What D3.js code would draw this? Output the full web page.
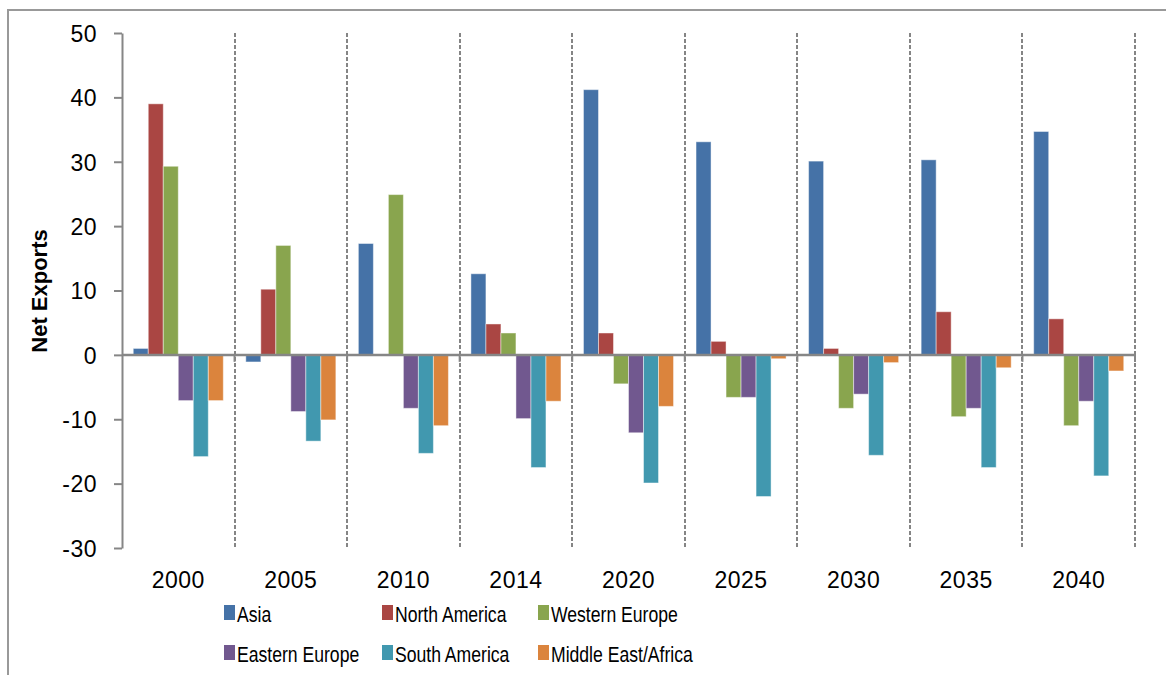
<!DOCTYPE html>
<html>
<head>
<meta charset="utf-8">
<script src="https://cdn.jsdelivr.net/npm/d3@7"></script>
<style>
  body { margin: 0; background: #fff; }
  svg { display: block; font-family: "Liberation Sans", Arial, sans-serif; }
</style>
</head>
<body>
<div id="chart"></div>
<script>
// Data
var years = ["2000", "2005", "2010", "2014", "2020", "2025", "2030", "2035", "2040"];
var series = ["Asia", "North America", "Western Europe", "Eastern Europe", "South America", "Middle East/Africa"];
var asia          = [1.0, -1.1, 17.3, 12.6, 41.2, 33.1, 30.1, 30.3, 34.7];
var northAmerica  = [39.0, 10.2, 0, 4.8, 3.4, 2.1, 1.0, 6.7, 5.6];
var westernEurope = [29.3, 17.0, 24.9, 3.4, -4.5, -6.6, -8.3, -9.6, -11.0];
var easternEurope = [-7.1, -8.8, -8.3, -9.9, -12.1, -6.6, -6.1, -8.3, -7.2];
var southAmerica  = [-15.8, -13.4, -15.3, -17.5, -19.9, -22.0, -15.6, -17.5, -18.8];
var middleEast    = [-7.1, -10.1, -11.0, -7.2, -8.0, -0.6, -1.2, -2.0, -2.5];
var yTicks = [-30, -20, -10, 0, 10, 20, 30, 40, 50];

var values = [asia, northAmerica, westernEurope, easternEurope, southAmerica, middleEast];
var colors = ["#4572A7", "#AA4643", "#89A54E", "#71588F", "#4198AF", "#DB843D"];

var width = 1166, height = 675;
var axisColor = "#868686";

var svg = d3.select("#chart").append("svg")
    .attr("width", width)
    .attr("height", height);

// outer chart border (only top and left show)
svg.append("path")
    .attr("d", "M8,675 L8,10 L1166,10")
    .attr("fill", "none")
    .attr("stroke", "#999")
    .attr("stroke-width", 2);

// Scales
var x = d3.scaleBand().domain(years).range([122, 1135]).padding(0);
var xs = d3.scaleBand().domain(series).range([0, x.bandwidth()])
    .paddingInner(0).paddingOuter(0.75);
var y = d3.scaleLinear().domain([-30, 50]).range([548, 33]);
var color = d3.scaleOrdinal().domain(series).range(colors);

// dashed vertical separators between categories
svg.append("g")
    .selectAll("line")
    .data(years)
    .enter().append("line")
    .attr("x1", d => Math.round(x(d) + x.bandwidth()))
    .attr("x2", d => Math.round(x(d) + x.bandwidth()))
    .attr("y1", y(50))
    .attr("y2", y(-30))
    .attr("stroke", "#858585")
    .attr("stroke-width", 2)
    .attr("stroke-dasharray", "4,2");

// Bars
var rows = [];
years.forEach(function(yr, i) {
    series.forEach(function(s, j) {
        rows.push({ year: yr, series: s, value: values[j][i] });
    });
});

svg.append("g")
    .selectAll("rect")
    .data(rows.filter(d => d.value !== 0))
    .enter().append("rect")
    .attr("x", d => x(d.year) + xs(d.series))
    .attr("width", xs.bandwidth())
    .attr("y", d => y(Math.max(0, d.value)))
    .attr("height", d => Math.abs(y(d.value) - y(0)))
    .attr("fill", d => color(d.series))
    .attr("stroke", "#ffffff")
    .attr("stroke-opacity", 0.45)
    .attr("stroke-width", 1);

// Y axis
var yAxis = svg.append("g")
    .attr("transform", "translate(122,0)")
    .call(d3.axisLeft(y).tickValues(yTicks).tickFormat(d => String(d))
        .tickSize(8).tickSizeOuter(0).tickPadding(17));
yAxis.select(".domain").attr("stroke", axisColor).attr("stroke-width", 2);
yAxis.selectAll(".tick line").attr("stroke", axisColor).attr("stroke-width", 2);
yAxis.selectAll(".tick text")
    .attr("fill", "#000")
    .style("font-size", "23px")
    .style("letter-spacing", "0.5px")
    .attr("dy", "0.36em");

// zero line with category ticks
svg.append("line")
    .attr("x1", 122).attr("x2", 1135)
    .attr("y1", y(0)).attr("y2", y(0))
    .attr("stroke", axisColor)
    .attr("stroke-width", 2.5);

svg.append("g")
    .selectAll("line")
    .data(years)
    .enter().append("line")
    .attr("x1", d => x(d) + x.bandwidth())
    .attr("x2", d => x(d) + x.bandwidth())
    .attr("y1", y(0))
    .attr("y2", y(0) + 7)
    .attr("stroke", axisColor)
    .attr("stroke-width", 2);

// category labels
svg.append("g")
    .selectAll("text")
    .data(years)
    .enter().append("text")
    .attr("x", d => x(d) + x.bandwidth() / 2)
    .attr("y", 588)
    .attr("text-anchor", "middle")
    .style("font-size", "23px")
    .style("letter-spacing", "0.5px")
    .text(d => d);

// Y axis title
svg.append("text")
    .attr("transform", "translate(47,291) rotate(-90)")
    .attr("text-anchor", "middle")
    .style("font-size", "22px")
    .style("font-weight", "bold")
    .text("Net Exports");

// Legend
var legendX = [224, 382, 538];
var legendY = [605, 645];
var legend = svg.append("g")
    .selectAll("g")
    .data(series)
    .enter().append("g")
    .attr("transform", (d, i) => "translate(" + legendX[i % 3] + "," + legendY[Math.floor(i / 3)] + ")");

legend.append("rect")
    .attr("width", 11)
    .attr("height", 15)
    .attr("fill", d => color(d));

legend.append("text")
    .attr("transform", "translate(13,17) scale(0.8,1)")
    .style("font-size", "22px")
    .text(d => d);
</script>
</body>
</html>
